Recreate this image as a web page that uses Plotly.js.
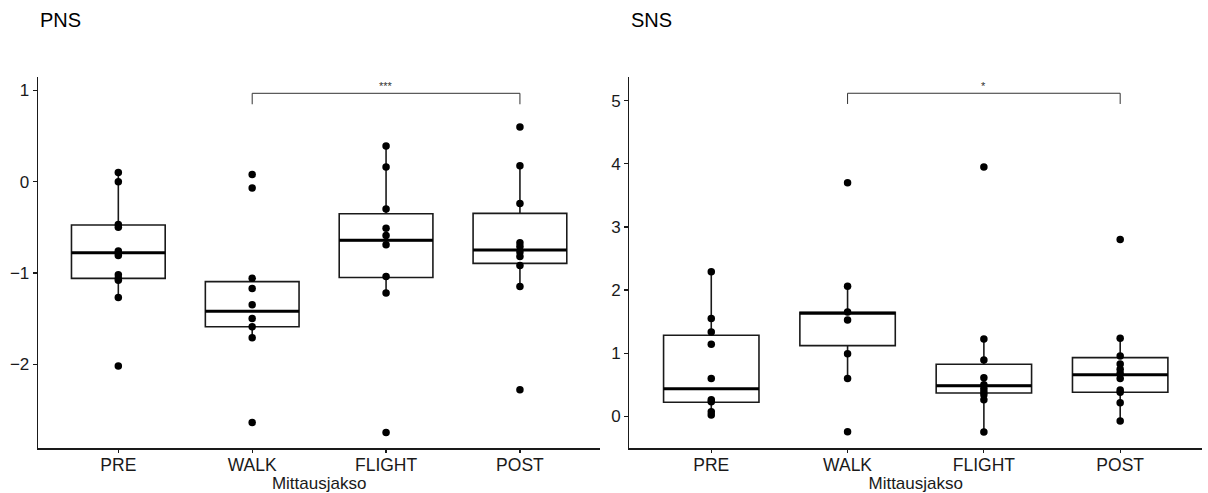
<!DOCTYPE html>
<html>
<head>
<meta charset="utf-8">
<script src="https://cdn.plot.ly/plotly-3.0.1.min.js"></script>
<style>html,body{margin:0;padding:0;background:#fff;}#chart{width:1208px;height:493px;}</style>
</head>
<body>
<div id="chart"></div>
<script>
// Categories
var categories = ["PRE", "WALK", "FLIGHT", "POST"];
var xTitle = "Mittausjakso";

// PNS raw points per category
var pnsPRE    = [0.10, 0.00, -0.47, -0.50, -0.76, -0.78, -0.81, -1.02, -1.06, -1.08, -1.27, -2.02];
var pnsWALK   = [0.08, -0.07, -1.06, -1.17, -1.35, -1.50, -1.59, -1.71, -2.64];
var pnsFLIGHT = [0.39, 0.16, -0.30, -0.51, -0.59, -0.69, -1.04, -1.22, -2.75];
var pnsPOST   = [0.60, 0.175, -0.24, -0.67, -0.71, -0.77, -0.82, -0.92, -1.15, -2.28];
// PNS box statistics
var pnsQ1     = [-1.06, -1.59, -1.05, -0.895];
var pnsMedian = [-0.78, -1.42, -0.643, -0.749];
var pnsQ3     = [-0.475, -1.096, -0.351, -0.347];
var pnsLow    = [-1.27, -1.71, -1.22, -1.15];
var pnsHigh   = [0.10, -1.06, 0.39, 0.175];
var pnsTicks  = [-2, -1, 0, 1];
var pnsBracket = {from: 2, to: 4, y: 0.969, tip: 0.849, label: "***", labelY: 1.045};

// SNS raw points per category
var snsPRE    = [2.29, 1.55, 1.335, 1.14, 0.60, 0.26, 0.23, 0.07, 0.02];
var snsWALK   = [3.70, 2.06, 1.65, 1.525, 0.99, 0.60, -0.245];
var snsFLIGHT = [3.95, 1.225, 0.89, 0.61, 0.50, 0.44, 0.39, 0.34, 0.26, -0.25];
var snsPOST   = [2.80, 1.235, 0.955, 0.83, 0.745, 0.68, 0.60, 0.415, 0.38, 0.215, -0.075];
// SNS box statistics
var snsQ1     = [0.222, 1.119, 0.369, 0.38];
var snsMedian = [0.437, 1.631, 0.485, 0.659];
var snsQ3     = [1.283, 1.647, 0.824, 0.929];
var snsLow    = [0.02, 0.60, -0.25, -0.075];
var snsHigh   = [2.29, 2.06, 1.225, 1.235];
var snsTicks  = [0, 1, 2, 3, 4, 5];
var snsBracket = {from: 2, to: 4, y: 5.117, tip: 4.947, label: "*", labelY: 5.225};

var BOXW = 0.7;
var pos = categories.map(function(c, i){ return i + 1; });

function panelTraces(groups, q1, med, q3, lo, hi, br, xa, ya) {
  var traces = [];
  traces.push({
    type: 'box', x: pos, q1: q1, median: med, q3: q3,
    lowerfence: lo, upperfence: hi, width: BOXW,
    fillcolor: '#ffffff', line: {color: '#1a1a1a', width: 1.6},
    whiskerwidth: 0, boxpoints: false, hoverinfo: 'skip',
    xaxis: xa, yaxis: ya, showlegend: false
  });
  var mx = [], my = [];
  pos.forEach(function(p, i){ mx.push(p - BOXW/2, p + BOXW/2, null); my.push(med[i], med[i], null); });
  traces.push({type:'scatter', mode:'lines', x: mx, y: my, line:{color:'#000', width:3},
    xaxis: xa, yaxis: ya, showlegend:false, hoverinfo:'skip'});
  var px = [], py = [];
  groups.forEach(function(g, i){ g.forEach(function(v){ px.push(pos[i]); py.push(v); }); });
  traces.push({type:'scatter', mode:'markers', x: px, y: py,
    marker:{color:'#000', size:7.5}, xaxis: xa, yaxis: ya, showlegend:false});
  traces.push({type:'scatter', mode:'lines',
    x:[br.from, br.from, br.to, br.to], y:[br.tip, br.y, br.y, br.tip],
    line:{color:'#333', width:1}, xaxis: xa, yaxis: ya, showlegend:false, hoverinfo:'skip'});
  return traces;
}

var data = []
  .concat(panelTraces([pnsPRE, pnsWALK, pnsFLIGHT, pnsPOST], pnsQ1, pnsMedian, pnsQ3, pnsLow, pnsHigh, pnsBracket, 'x', 'y'))
  .concat(panelTraces([snsPRE, snsWALK, snsFLIGHT, snsPOST], snsQ1, snsMedian, snsQ3, snsLow, snsHigh, snsBracket, 'x2', 'y2'));

var fontFam = '"Liberation Sans", Arial, sans-serif';
function xAxis(domain, anchor) {
  return {
    domain: domain, anchor: anchor, range: [0.4, 4.6],
    tickvals: pos, ticktext: categories,
    showline: true, linecolor: '#1a1a1a', linewidth: 1.3,
    ticks: 'outside', ticklen: 3, tickcolor: '#1a1a1a', tickwidth: 1.2,
    ticklabelstandoff: -3,
    showgrid: false, zeroline: false,
    tickfont: {family: fontFam, size: 17.5, color: '#1a1a1a'},
    title: {text: xTitle, font: {family: fontFam, size: 17, color: '#1a1a1a'}, standoff: 0}
  };
}
function yAxis(domain, anchor, range, ticks) {
  return {
    domain: domain, anchor: anchor, range: range, tickvals: ticks,
    showline: true, linecolor: '#1a1a1a', linewidth: 1.3,
    ticks: 'outside', ticklen: 4, tickcolor: '#1a1a1a', tickwidth: 1.2,
    showgrid: false, zeroline: false,
    tickfont: {family: fontFam, size: 17, color: '#1a1a1a'}
  };
}

var yDom = [0.0903, 0.8444];
var layout = {
  width: 1208, height: 493,
  margin: {l: 0, r: 0, t: 0, b: 0},
  paper_bgcolor: '#fff', plot_bgcolor: '#fff',
  showlegend: false,
  xaxis: xAxis([0.03146, 0.4969], 'y'),
  yaxis: yAxis(yDom, 'x', [-2.925, 1.151], pnsTicks),
  xaxis2: xAxis([0.5211, 0.9950], 'y2'),
  yaxis2: yAxis(yDom, 'x2', [-0.510, 5.379], snsTicks),
  annotations: [
    {text: 'PNS', xref: 'paper', yref: 'paper', x: 38/1208, y: 1 - 20/493, xanchor: 'left', yanchor: 'middle',
     showarrow: false, font: {family: fontFam, size: 20, color: '#000'}},
    {text: 'SNS', xref: 'paper', yref: 'paper', x: 629/1208, y: 1 - 20/493, xanchor: 'left', yanchor: 'middle',
     showarrow: false, font: {family: fontFam, size: 20, color: '#000'}},
    {text: pnsBracket.label, xref: 'x', yref: 'y', x: (pnsBracket.from + pnsBracket.to)/2, y: pnsBracket.labelY,
     showarrow: false, font: {family: fontFam, size: 11, color: '#333'}},
    {text: snsBracket.label, xref: 'x2', yref: 'y2', x: (snsBracket.from + snsBracket.to)/2, y: snsBracket.labelY,
     showarrow: false, font: {family: fontFam, size: 11, color: '#333'}}
  ]
};

Plotly.newPlot('chart', data, layout, {staticPlot: true, displayModeBar: false});
</script>
</body>
</html>
